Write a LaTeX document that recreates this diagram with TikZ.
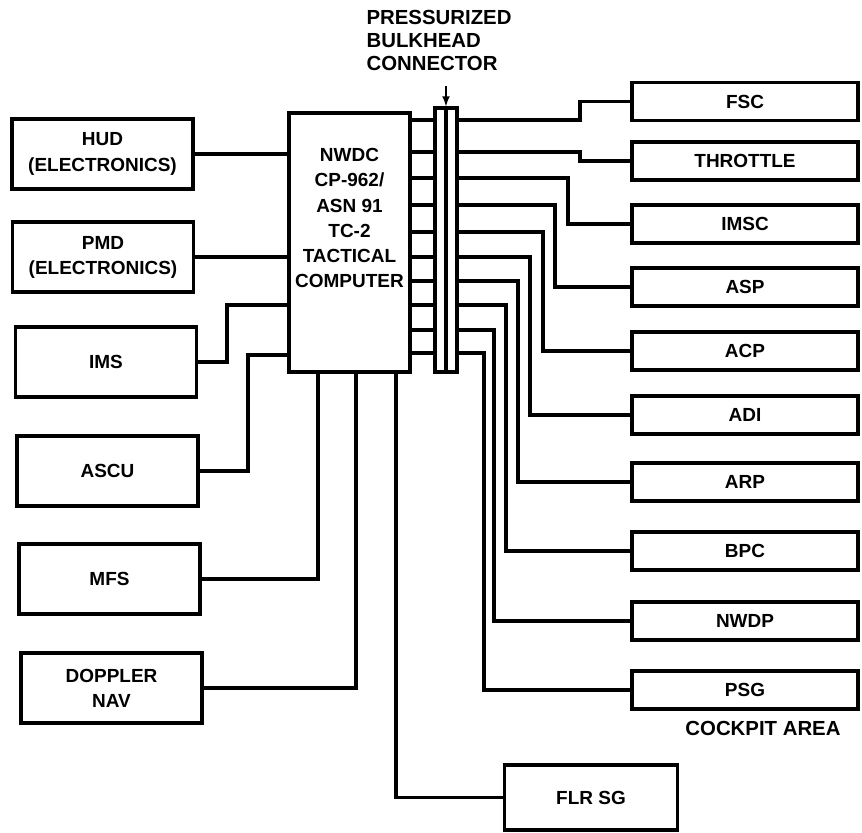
\documentclass[tikz,border=0pt]{standalone}
\usepackage{fontspec}
\setmainfont{Liberation Sans}
\begin{document}
\begin{tikzpicture}[x=0.02cm,y=-0.02cm,line width=1.8pt,
            label/.style={font=\bfseries\fontsize{10.8}{14.3}\selectfont,align=center,inner sep=0pt},
            unit/.style={label,draw,line width=1.8pt},
            leftbox/.style={unit,minimum width=3.62cm,minimum height=1.4cm},
            rightbox/.style={unit,minimum width=4.52cm,minimum height=0.76cm},
            caption/.style={font=\bfseries\fontsize{11.6}{13}\selectfont,inner sep=0pt}]
            \useasboundingbox (0,0) rectangle (862,832);
            % computer and bulkhead connector
            \node[unit,minimum width=2.42cm,minimum height=5.18cm] (cpu) at (349.5,242.5) {};
            \node[label,anchor=north] (cputxt) at (349.5,147) {NWDC\\CP-962/\\ASN 91\\TC-2\\TACTICAL\\COMPUTER};
            \node[unit,minimum width=0.44cm,minimum height=5.28cm] (conn) at (446,240) {};
            \draw (conn.north) -- (conn.south);
            \node[caption,align=left,anchor=north west] (bhd) at (365,9) {PRESSURIZED\\BULKHEAD\\CONNECTOR};
            \coordinate (tip) at (446,86);
            \draw[-latex,line width=1pt] (tip) -- (conn.north);
            % left units
            \node[leftbox] (hud) at (102.5,154) {HUD\\(ELECTRONICS)};
            \node[leftbox] (pmd) at (103,257) {PMD\\(ELECTRONICS)};
            \node[leftbox] (ims) at (106,362) {IMS};
            \node[leftbox] (ascu) at (107.5,471) {ASCU};
            \node[leftbox] (mfs) at (109.5,579) {MFS};
            \node[leftbox] (dop) at (111.5,688) {DOPPLER\\NAV};
            \node[unit,minimum width=3.46cm,minimum height=1.3cm] (flr) at (591,797.5) {FLR SG};
            \draw (hud.east) -- (hud.east -| cpu.west);
            \draw (pmd.east) -- (pmd.east -| cpu.west);
            \draw (ims.east) -| (227,305) -- (cpu.west |- 0,305);
            \draw (ascu.east) -| (248,355) -- (cpu.west |- 0,355);
            \draw (mfs.east) -| (cpu.south -| 318,0);
            \draw (dop.east) -| (cpu.south -| 356,0);
            \draw (flr.west) -| (cpu.south -| 396,0);
            % cockpit units
            \node[rightbox] (fsc) at (745,101.5) {FSC};
            \node[rightbox] (thr) at (745,161) {THROTTLE};
            \node[rightbox] (imsc) at (745,224) {IMSC};
            \node[rightbox] (asp) at (745,287) {ASP};
            \node[rightbox] (acp) at (745,351) {ACP};
            \node[rightbox] (adi) at (745,415) {ADI};
            \node[rightbox] (arp) at (745,482) {ARP};
            \node[rightbox] (bpc) at (745,551) {BPC};
            \node[rightbox] (nwdp) at (745,621) {NWDP};
            \node[rightbox] (psg) at (745,690) {PSG};
            \node[caption] (ckp) at (763,728) {COCKPIT AREA};
            \foreach \n/\ye/\xv in {fsc/120/580,thr/152/580,imsc/178/568,asp/205/555,acp/232/543,
                                    adi/257/530,arp/281/518,bpc/305/506,nwdp/330/494,psg/353/484}{
              \draw (cpu.east |- 0,\ye) -- (conn.west |- 0,\ye);
              \draw (conn.east |- 0,\ye) -- (\xv,\ye) |- (\n.west);
            }
        \end{tikzpicture}
\end{document}
